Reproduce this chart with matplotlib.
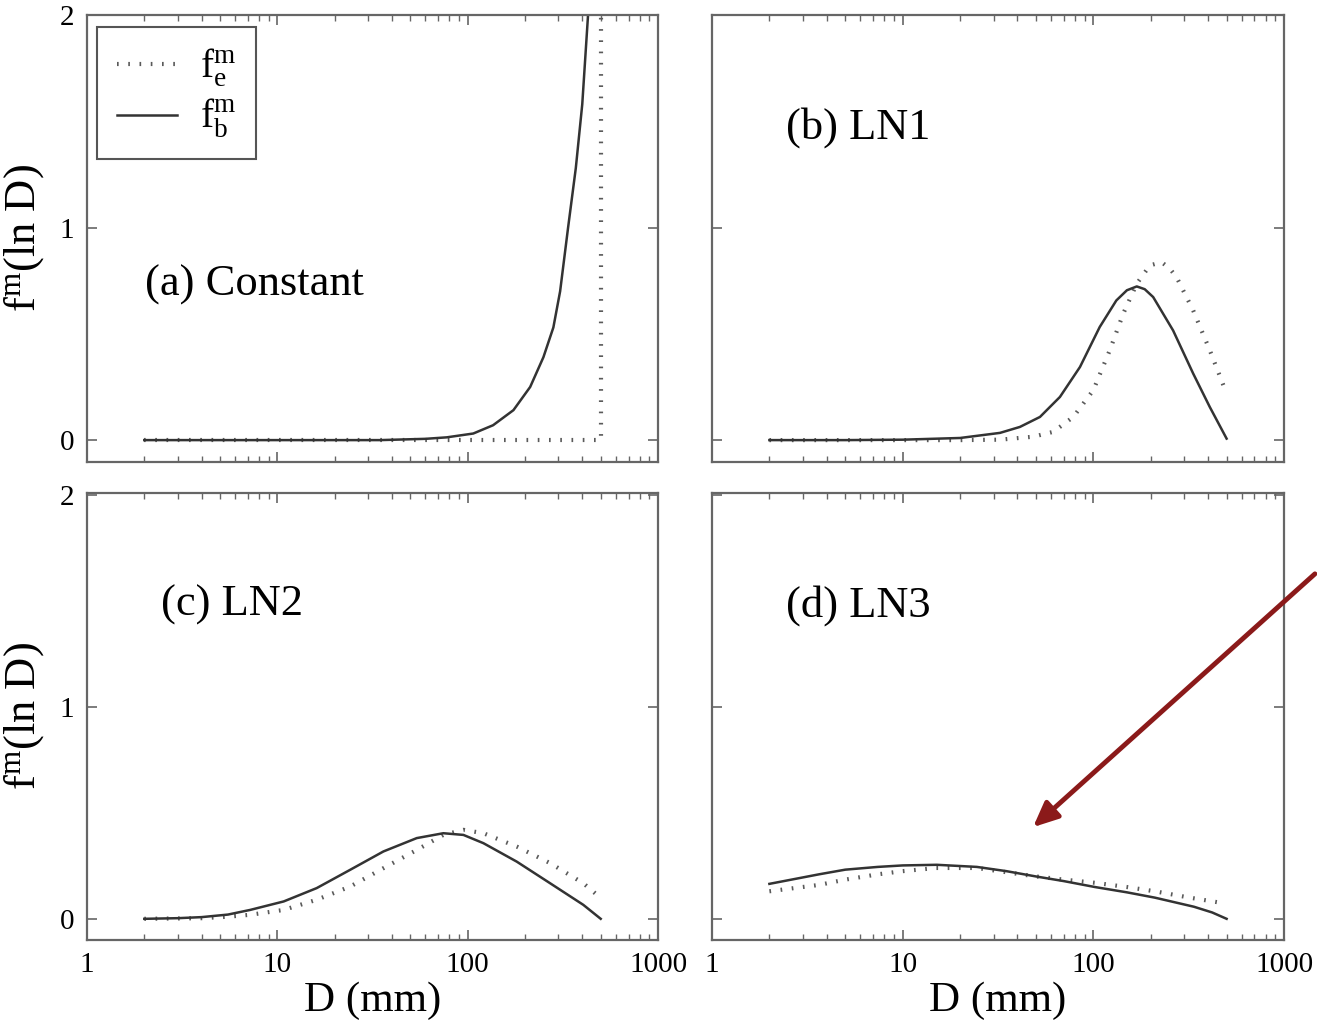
import numpy as np
import matplotlib
matplotlib.use('Agg')
import matplotlib.pyplot as plt
from matplotlib.patches import FancyArrowPatch
from matplotlib.ticker import LogLocator, FixedLocator, NullFormatter

plt.rcParams['font.family'] = ['Liberation Serif', 'DejaVu Serif']
plt.rcParams['mathtext.fontset'] = 'custom'
plt.rcParams['mathtext.rm'] = 'Liberation Serif'
plt.rcParams['mathtext.it'] = 'Liberation Serif'

# ---- data (D in mm, f^m(ln D)) ----
# (a) Constant
a_D_b = [2, 10, 34.7, 60, 77.6, 107, 136, 174, 213, 250, 282, 306, 337, 370, 400, 429, 460]
a_f_b = [0, 0, 0, 0.006, 0.013, 0.031, 0.07, 0.141, 0.25, 0.39, 0.53, 0.70, 1.0, 1.28, 1.58, 2.0, 2.4]
a_D_e = [2, 500, 500]
a_f_e = [0, 0, 2.1]

# (b) LN1
b_D_b = [2, 5, 10, 20, 32.4, 41.2, 52.5, 66.8, 85.1, 108, 132, 150, 169, 186, 206, 262, 334, 408, 500]
b_f_b = [0, 0, 0.002, 0.01, 0.034, 0.062, 0.109, 0.203, 0.344, 0.532, 0.657, 0.705, 0.723, 0.71, 0.673,
         0.516, 0.313, 0.156, 0.007]
b_D_e = [2, 10, 20, 32.4, 48.4, 61.7, 78.5, 100, 122, 143.5, 169, 198, 228, 250, 273, 334, 408, 500]
b_f_e = [0, 0, 0, 0.002, 0.016, 0.039, 0.109, 0.235, 0.423, 0.595, 0.736, 0.822, 0.837, 0.81, 0.767,
         0.61, 0.423, 0.219]

# (c) LN2
c_D_b = [2, 3, 4, 5.5, 7.2, 10.8, 16.1, 24.1, 36.1, 54, 74.5, 95, 121, 181, 271, 405, 500]
c_f_b = [0, 0.003, 0.008, 0.02, 0.042, 0.082, 0.145, 0.231, 0.318, 0.381, 0.404, 0.396, 0.357, 0.270,
         0.168, 0.066, 0.0]
c_D_e = [2, 4, 5.5, 7.2, 10.8, 16.1, 24.1, 36.1, 54, 74.5, 95, 121, 181, 271, 405, 490]
c_f_e = [0, 0.003, 0.01, 0.019, 0.042, 0.09, 0.152, 0.239, 0.325, 0.396, 0.42, 0.404, 0.341, 0.263,
         0.168, 0.105]

# (d) LN3
d_D_b = [2, 3.64, 5, 7.4, 10, 15.1, 24.5, 35, 50, 70, 102, 150, 210, 337, 420, 500]
d_f_b = [0.165, 0.21, 0.232, 0.245, 0.252, 0.255, 0.245, 0.225, 0.20, 0.178, 0.15, 0.125, 0.10, 0.057,
         0.03, 0.0]
d_D_e = [2, 3.64, 5, 7.4, 10, 15, 24.5, 35, 50, 70, 102, 150, 210, 320, 472]
d_f_e = [0.13, 0.16, 0.185, 0.21, 0.225, 0.24, 0.24, 0.22, 0.20, 0.185, 0.17, 0.15, 0.13, 0.10, 0.075]

panels = [
    ("(a) Constant", a_D_b, a_f_b, a_D_e, a_f_e, (2.02, 0.73)),
    ("(b) LN1", b_D_b, b_f_b, b_D_e, b_f_e, (2.45, 1.47)),
    ("(c) LN2", c_D_b, c_f_b, c_D_e, c_f_e, (2.45, 1.48)),
    ("(d) LN3", d_D_b, d_f_b, d_D_e, d_f_e, (2.45, 1.48)),
]

W, H = 1317, 1022
fig = plt.figure(figsize=(W / 100, H / 100), dpi=100)

# axes boxes in pixels (left, top, right, bottom)
boxes = [(87, 15, 658, 462), (712, 15, 1284, 462),
         (87, 493, 658, 940), (712, 493, 1284, 940)]
ylims = [(-0.103, 2.0), (-0.103, 2.0), (-0.1, 2.01), (-0.1, 2.01)]

spine_col = '#666666'
for i, (name, Db, fb, De, fe, tpos) in enumerate(panels):
    l, t, r, b = boxes[i]
    ax = fig.add_axes([l / W, 1 - b / H, (r - l) / W, (b - t) / H])
    ax.set_xscale('log')
    ax.set_xlim(1, 1000)
    ax.set_ylim(*ylims[i])

    le, = ax.plot(De, fe, color='#5a5a5a', lw=3.0, linestyle=(0, (0.4, 2.3)))
    lb, = ax.plot(Db, fb, color='#333333', lw=1.8)

    ax.text(tpos[0], tpos[1], name, fontsize=32, va='center', ha='left')

    ax.yaxis.set_major_locator(FixedLocator([0, 1, 2]))
    ax.xaxis.set_major_locator(LogLocator(base=10, numticks=5))
    ax.xaxis.set_minor_locator(LogLocator(base=10, subs=np.arange(2, 10), numticks=10))
    ax.xaxis.set_minor_formatter(NullFormatter())
    ax.tick_params(which='both', direction='in', top=True, right=True,
                   color=spine_col, labelsize=21, pad=9)
    ax.tick_params(which='major', length=7, width=1.2)
    ax.tick_params(which='minor', length=4, width=1.0)
    for s in ax.spines.values():
        s.set_color(spine_col)
        s.set_linewidth(1.6)

    if i in (1, 3):
        ax.set_yticklabels([])
    else:
        ax.set_ylabel(r'$\mathregular{f^m}$(ln D)', fontsize=32, labelpad=10)
    if i in (0, 1):
        ax.set_xticklabels([])
    else:
        ax.set_xticks([1, 10, 100, 1000])
        ax.set_xticklabels(['1', '10', '100', '1000'])
        ax.set_xlabel('D (mm)', fontsize=31, labelpad=2)

    if i == 0:
        leg = ax.legend([le, lb], [r'$\mathregular{f_e^m}$', r'$\mathregular{f_b^m}$'],
                        loc='upper left', bbox_to_anchor=(0.018, 0.973),
                        fontsize=28, fancybox=False, framealpha=1,
                        edgecolor='#555555', handlelength=1.55, handletextpad=0.6,
                        labelspacing=0.2, borderpad=0.5, borderaxespad=0)
        leg.get_frame().set_linewidth(1.5)

# red arrow pointing at LN3 curves
arrow = FancyArrowPatch((1.0, 1 - 572 / H), (1031 / W, 1 - 829 / H),
                        transform=fig.transFigure,
                        arrowstyle='-|>,head_length=1.0,head_width=0.45',
                        mutation_scale=15, lw=3.5, color='#8B1A1A')
fig.add_artist(arrow)

fig.savefig('out.png', dpi=100)
